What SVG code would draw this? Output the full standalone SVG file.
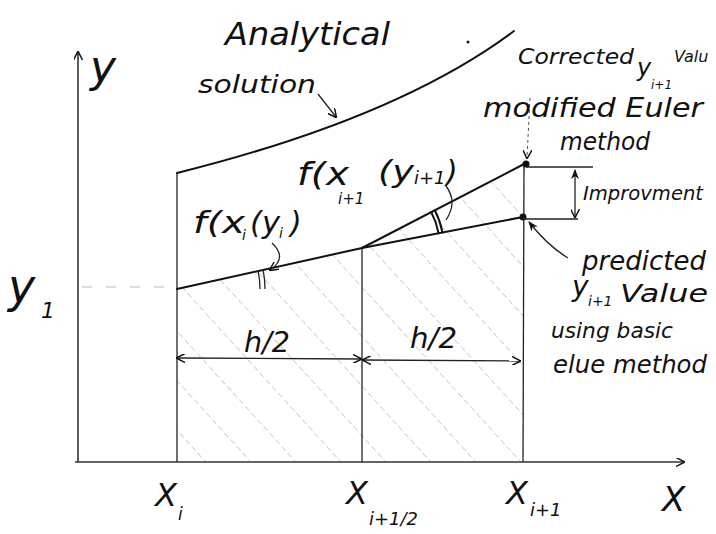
<svg xmlns="http://www.w3.org/2000/svg" width="716" height="534" viewBox="0 0 716 534">
<style>
.ln{stroke:#111;stroke-width:2;fill:none;stroke-linecap:round}
.thin{stroke:#222;stroke-width:1.3;fill:none}
.ax{stroke:#333;stroke-width:1.6;fill:none}
.hatch{stroke:#c4c4c4;stroke-width:1;stroke-dasharray:6 3;fill:none}
.t{font-family:"DejaVu Sans","Liberation Sans",sans-serif;font-style:italic;fill:#111}
</style>
<defs>
<marker id="open" viewBox="0 0 10 10" refX="9" refY="5" markerWidth="9" markerHeight="9" orient="auto-start-reverse" markerUnits="userSpaceOnUse">
<path d="M0,0 L10,5 L0,10" fill="none" stroke="#111" stroke-width="1.6"/>
</marker>
<marker id="head" viewBox="0 0 10 10" refX="9" refY="5" markerWidth="10" markerHeight="10" orient="auto-start-reverse" markerUnits="userSpaceOnUse">
<path d="M0,1 L10,5 L0,9 L3,5 Z" fill="#111"/>
</marker>
<clipPath id="area"><polygon points="177,289 362,248 526,163 523,462 177,462"/></clipPath>
</defs>
<rect width="716" height="534" fill="#fff"/>

<g id="hatching" clip-path="url(#area)">
<path class="hatch" d="M120,120 L520,560 M165,120 L565,560 M210,120 L610,560 M255,120 L655,560 M300,120 L700,560 M345,120 L745,560 M390,120 L790,560 M435,120 L835,560 M480,120 L880,560 M75,120 L475,560 M30,120 L430,560 M-15,120 L385,560 M-60,120 L340,560 M-105,120 L295,560"/>
</g>

<g id="axes">
<line class="ax" x1="78" y1="52" x2="78" y2="462" marker-start="url(#open)"/>
<line class="ax" x1="75" y1="462" x2="684" y2="462" marker-end="url(#open)"/>
<line x1="82" y1="287" x2="175" y2="287" stroke="#bbb" stroke-width="1" stroke-dasharray="10 14"/>
</g>

<g id="verticals">
<line class="thin" x1="177" y1="173" x2="177" y2="462"/>
<line class="thin" x1="362" y1="248" x2="362" y2="462"/>
<line class="thin" x1="524" y1="163" x2="523" y2="462"/>
</g>

<g id="analytical-curve">
<path class="ln" d="M177,173 Q398,118 514,31"/>
<circle cx="468" cy="42" r="1.5" fill="#111"/>
</g>

<g id="euler-lines">
<line class="ln" x1="177" y1="289" x2="362" y2="248"/>
<line class="ln" x1="362" y1="248" x2="526" y2="163"/>
<line class="ln" x1="362" y1="248" x2="523" y2="217"/>
<circle cx="526" cy="164" r="3.5" fill="#111"/>
<circle cx="523" cy="217" r="3.5" fill="#111"/>
<path class="thin" d="M260,289 A85,85 0 0 0 258,270.7 M265,289 A90,90 0 0 0 263,269.7"/>
<path class="ln" d="M431.3,212.1 A78,78 0 0 1 438.6,233.3 M434.8,210.3 A82,82 0 0 1 442.5,232.5"/>
</g>

<g id="improvement">
<line class="thin" x1="526" y1="167" x2="593" y2="167"/>
<line class="thin" x1="523" y1="219" x2="578" y2="219"/>
<line class="thin" x1="575" y1="170" x2="575" y2="217" marker-start="url(#head)" marker-end="url(#open)"/>
</g>

<g id="h-arrows">
<line class="thin" x1="177" y1="358" x2="361" y2="359" marker-start="url(#open)" marker-end="url(#open)"/>
<line class="thin" x1="363" y1="360" x2="520" y2="361" marker-start="url(#open)" marker-end="url(#open)"/>
</g>

<g id="connectors">
<path class="thin" d="M318,94 L336,117" marker-end="url(#open)"/>
<path d="M530,98 L527,158" stroke="#555" stroke-width="1" stroke-dasharray="3 3" fill="none" marker-end="url(#open)"/>
<path class="thin" d="M568,258 Q548,246 529,222" marker-end="url(#head)"/>
<path class="thin" d="M446,186 Q458,202 446,220"/>
<path class="thin" d="M272,243 Q288,258 270,270" marker-end="url(#open)"/>
</g>

<g id="labels">
<text class="t" x="225" y="45" font-size="32" textLength="165" lengthAdjust="spacingAndGlyphs">Analytical</text>
<text class="t" x="198" y="93" font-size="24" textLength="118" lengthAdjust="spacingAndGlyphs">solution</text>
<text class="t" x="518" y="64" font-size="22" textLength="116" lengthAdjust="spacingAndGlyphs">Corrected</text>
<text class="t" x="637" y="76" font-size="24">y</text>
<text class="t" x="651" y="89" font-size="12">i+1</text>
<text class="t" x="674" y="62" font-size="16">Valu</text>
<text class="t" x="483" y="117" font-size="26" textLength="220" lengthAdjust="spacingAndGlyphs">modified Euler</text>
<text class="t" x="560" y="150" font-size="24" textLength="90" lengthAdjust="spacingAndGlyphs">method</text>
<text class="t" x="583" y="200" font-size="20" textLength="120" lengthAdjust="spacingAndGlyphs">Improvment</text>
<text class="t" x="582" y="270" font-size="26">predicted</text>
<text class="t" x="572" y="296" font-size="28">y</text>
<text class="t" x="588" y="306" font-size="14">i+1</text>
<text class="t" x="620" y="302" font-size="24" textLength="88" lengthAdjust="spacingAndGlyphs">Value</text>
<text class="t" x="551" y="338" font-size="22" textLength="122" lengthAdjust="spacingAndGlyphs">using basic</text>
<text class="t" x="553" y="373" font-size="24" textLength="154" lengthAdjust="spacingAndGlyphs">elue method</text>
<text class="t" x="297" y="185" font-size="32" textLength="52" lengthAdjust="spacingAndGlyphs">f(x</text>
<text class="t" x="338" y="204" font-size="15">i+1</text>
<text class="t" x="378" y="182" font-size="30" textLength="36" lengthAdjust="spacingAndGlyphs">(y</text>
<text class="t" x="414" y="184" font-size="18">i+1</text>
<text class="t" x="446" y="182" font-size="30">)</text>
<text class="t" x="193" y="233" font-size="30" textLength="52" lengthAdjust="spacingAndGlyphs">f(x</text>
<text class="t" x="242" y="240" font-size="14">i</text>
<text class="t" x="250" y="233" font-size="30" textLength="30" lengthAdjust="spacingAndGlyphs">(y</text>
<text class="t" x="279" y="238" font-size="14">i</text>
<text class="t" x="290" y="233" font-size="30">)</text>
<text class="t" x="90" y="82" font-size="44">y</text>
<text class="t" x="8" y="302" font-size="46">y</text>
<text class="t" x="41" y="318" font-size="22">1</text>
<text class="t" x="244" y="352" font-size="28" textLength="46" lengthAdjust="spacingAndGlyphs">h/2</text>
<text class="t" x="410" y="348" font-size="28" textLength="47" lengthAdjust="spacingAndGlyphs">h/2</text>
<text class="t" x="155" y="506" font-size="32">X</text>
<text class="t" x="178" y="520" font-size="17">i</text>
<text class="t" x="346" y="504" font-size="32">X</text>
<text class="t" x="369" y="525" font-size="18">i+1/2</text>
<text class="t" x="506" y="504" font-size="32">X</text>
<text class="t" x="530" y="516" font-size="18">i+1</text>
<text class="t" x="662" y="511" font-size="34">X</text>
</g>
</svg>
